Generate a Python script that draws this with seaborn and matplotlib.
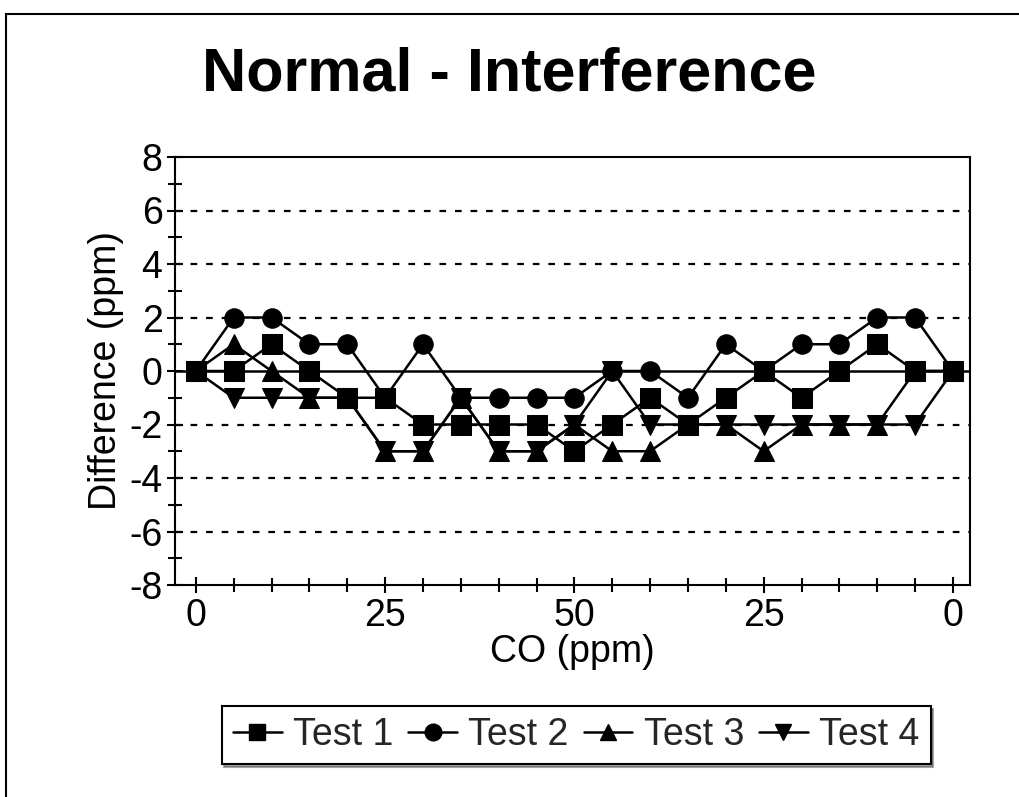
import matplotlib
matplotlib.use("Agg")
import matplotlib.pyplot as plt
import seaborn as sns
import pandas as pd
import numpy as np
from matplotlib.ticker import MultipleLocator, FixedLocator
from matplotlib.lines import Line2D
from matplotlib.patches import Rectangle

# ---- data ----
step = list(range(21))
tick_pos = [0, 5, 10, 15, 20]
tick_labels = ["0", "25", "50", "25", "0"]
test1 = [0, 0, 1, 0, -1, -1, -2, -2, -2, -2, -3, -2, -1, -2, -1, 0, -1, 0, 1, 0, 0]
test2 = [0, 2, 2, 1, 1, -1, 1, -1, -1, -1, -1, 0, 0, -1, 1, 0, 1, 1, 2, 2, 0]
test3 = [0, 1, 0, -1, -1, -3, -3, -1, -3, -3, -2, -3, -3, -2, -2, -3, -2, -2, -2, 0, 0]
test4 = [0, -1, -1, -1, -1, -3, -3, -1, -3, -3, -2, 0, -2, -2, -2, -2, -2, -2, -2, -2, 0]
names = ["Test 1", "Test 2", "Test 3", "Test 4"]
series = [test1, test2, test3, test4]
markers = ["s", "o", "^", "v"]

df = pd.concat([pd.DataFrame({"step": step, "diff": s, "test": n})
                for n, s in zip(names, series)], ignore_index=True)

sns.set_theme(style="white")
plt.rcParams['font.family'] = ['Liberation Sans', 'DejaVu Sans']
plt.rcParams['axes.unicode_minus'] = False

fig = plt.figure(figsize=(10.19, 7.97), dpi=100)
ax = fig.add_axes([175/1019, 1-585/797, (970-175)/1019, (585-157)/797])

# draw Test 4 first so Test 1 ends on top
for n, m in reversed(list(zip(names, markers))):
    sub = df[df["test"] == n]
    sns.lineplot(data=sub, x="step", y="diff", ax=ax, color="black",
                 marker=m, markersize=14, linewidth=1.8,
                 markeredgecolor="black", markerfacecolor="black",
                 legend=False, zorder=3)

ax.axhline(0, color="black", linewidth=1.8, zorder=2)
for g in [-6, -4, -2, 2, 4, 6]:
    ax.axhline(g, color="black", linewidth=1.6, linestyle=(0, (3, 4)), zorder=1)

ax.set_xlim(-0.55, 20.45)
ax.set_ylim(-8, 8)
ax.xaxis.set_major_locator(FixedLocator(tick_pos))
ax.xaxis.set_minor_locator(MultipleLocator(1))
ax.set_xticklabels(tick_labels)
ax.yaxis.set_major_locator(MultipleLocator(2))
ax.yaxis.set_minor_locator(MultipleLocator(1))
ax.tick_params(axis="both", which="major", direction="inout", length=12, width=1.5,
               labelsize=27, color="black", labelcolor="black", pad=3,
               bottom=True, left=True)
ax.tick_params(axis="both", which="minor", direction="inout", length=10, width=1.5,
               color="black", bottom=True, left=True)
for sp in ax.spines.values():
    sp.set_color("black")
    sp.set_linewidth(1.5)
ax.set_xlabel("CO (ppm)", fontsize=27, color="black", labelpad=0)
ax.set_ylabel("Difference (ppm)", fontsize=27, color="black", labelpad=4)

fig.text(0.50, 1 - 75/797, "Normal - Interference", ha="center", va="center",
         fontsize=44, fontweight="bold", color="black")

handles = [Line2D([0], [0], color="black", marker=m, markersize=12, linewidth=1.8)
           for m in markers]
leg = fig.legend(handles, names, loc="center", bbox_to_anchor=(576/1019, 1-735/797),
                 ncol=4, fontsize=27, frameon=True, fancybox=False, shadow=True,
                 handlelength=1.3, handletextpad=0.3, columnspacing=0.4,
                 borderpad=0.3, edgecolor="black")
leg.get_frame().set_linewidth(1.5)

# page border
fig.patches.append(Rectangle((6/1019, -0.1), 1.2, (1-14/797) + 0.1,
                             transform=fig.transFigure, fill=False,
                             edgecolor="black", linewidth=1.5))

fig.savefig("out.png", dpi=100, facecolor="white")
